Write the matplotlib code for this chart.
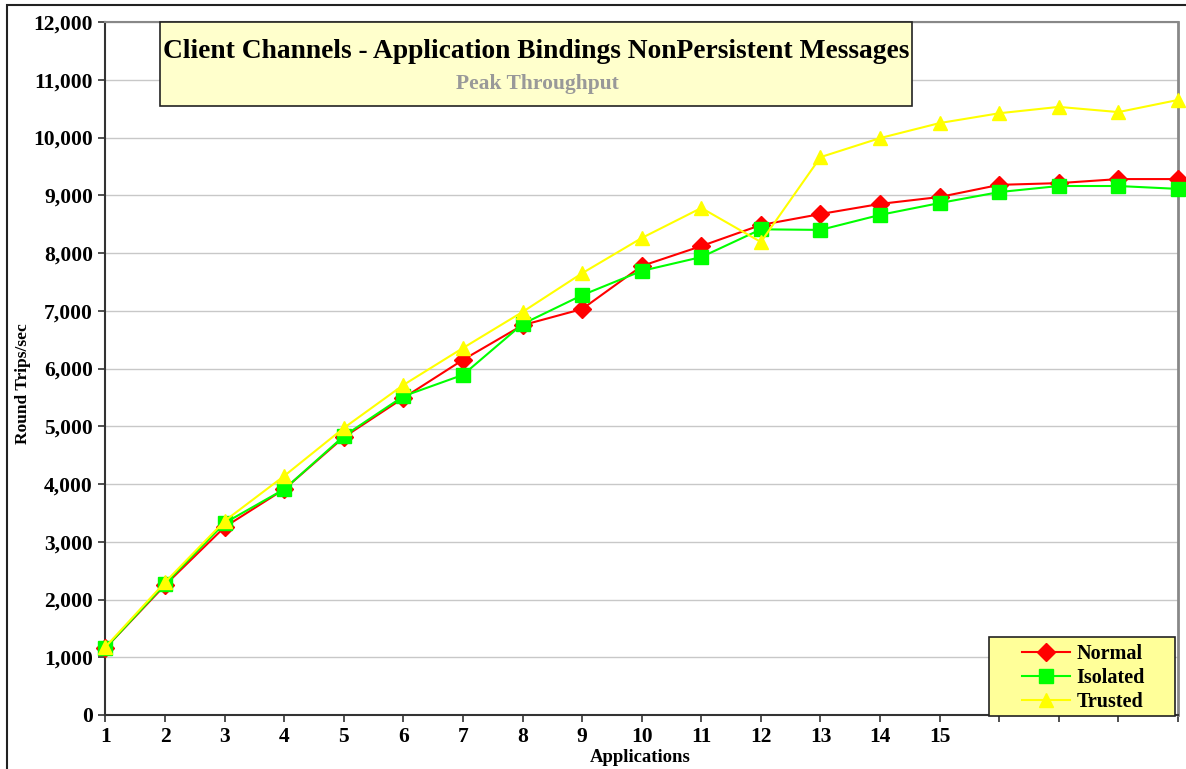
import matplotlib
matplotlib.use("Agg")
import matplotlib.pyplot as plt
from matplotlib.patches import Rectangle
from matplotlib.ticker import FuncFormatter, FixedLocator

applications = list(range(1, 20))
tick_labels = [str(i) for i in range(1, 16)] + ["", "", "", ""]
normal = [1160, 2250, 3255, 3910, 4810, 5490, 6150, 6750, 7030, 7775,
          8120, 8485, 8675, 8850, 8970, 9180, 9210, 9280, 9280]
isolated = [1160, 2270, 3325, 3910, 4830, 5520, 5890, 6770, 7270, 7690,
            7930, 8410, 8400, 8660, 8865, 9055, 9160, 9160, 9110]
trusted = [1180, 2300, 3360, 4140, 4970, 5715, 6355, 6980, 7650, 8260,
           8780, 8190, 9660, 9990, 10250, 10420, 10530, 10440, 10650]

plt.rcParams['font.family'] = ['Liberation Serif', 'DejaVu Serif']
plt.rcParams['font.weight'] = 'bold'

W, H = 1186, 769
AW = 1178 - 105.5
AH = 715 - 22
fig = plt.figure(figsize=(W / 100, H / 100), dpi=100)
ax = fig.add_axes([105.5 / W, 1 - 715 / H, AW / W, AH / H])

# outer figure border
fig.patches.append(Rectangle((7 / W, -0.05), 1.2, 1 - 5 / H + 0.05,
                             transform=fig.transFigure, fill=False,
                             edgecolor='#222222', linewidth=1.5, zorder=0))

ax.plot(applications, normal, color='#FF0000', marker='D', markersize=9,
        linewidth=1.5, label='Normal', clip_on=False, zorder=3)
ax.plot(applications, isolated, color='#00FF00', marker='s', markersize=10,
        linewidth=1.5, label='Isolated', clip_on=False, zorder=4)
ax.plot(applications, trusted, color='#FFFF00', marker='^', markersize=10.5,
        linewidth=1.5, label='Trusted', clip_on=False, zorder=5)

ax.set_xlim(1, 19)
ax.set_ylim(0, 12000)
ax.xaxis.set_major_locator(FixedLocator(applications))
ax.set_xticklabels(tick_labels)
ax.set_yticks(range(0, 12001, 1000))
ax.yaxis.set_major_formatter(FuncFormatter(lambda v, p: f"{int(v):,}"))
ax.grid(axis='y', color='#C8C8C8', linewidth=1)
ax.set_axisbelow(True)

for s in ['left', 'bottom']:
    ax.spines[s].set_color('#333333')
    ax.spines[s].set_linewidth(1.5)
ax.spines['right'].set_color('#888888')
ax.spines['right'].set_linewidth(2)
ax.spines['top'].set_color('#888888')
ax.spines['top'].set_linewidth(1.5)

ax.tick_params(axis='both', direction='out', length=5, width=1.2, color='#333333',
               labelsize=15.5)
ax.tick_params(axis='x', pad=4)
ax.tick_params(axis='y', pad=4)

ax.set_ylabel('Round Trips/sec', fontsize=12.5, fontweight='bold')
ax.yaxis.set_label_coords((31 - 105.5) / AW, (715 - 384) / AH)
ax.set_xlabel('Applications', fontsize=13.5, fontweight='bold')
ax.xaxis.set_label_coords((640 - 105.5) / AW, (715 - 749) / AH)

# title box
fig.patches.append(Rectangle((160 / W, 1 - 106 / H), (912 - 160) / W, (106 - 22) / H,
                             transform=fig.transFigure, facecolor='#FFFFCC',
                             edgecolor='#222222', linewidth=1.2, zorder=6))
fig.text(536 / W, 1 - 51 / H, 'Client Channels - Application Bindings NonPersistent Messages',
         ha='center', va='center', fontsize=19.8, fontweight='bold', color='black', zorder=7)
fig.text(537 / W, 1 - 84 / H, 'Peak Throughput', ha='center', va='center',
         fontsize=15.5, fontweight='bold', color='#999999', zorder=7)

# legend box
fig.patches.append(Rectangle((989 / W, 1 - 716 / H), (1175 - 989) / W, (716 - 637) / H,
                             transform=fig.transFigure, facecolor='#FFFF99',
                             edgecolor='#222222', linewidth=1.2, zorder=8))
leg = fig.legend(loc='center left', bbox_to_anchor=(1022 / W, 1 - 678 / H),
                 fontsize=14.5, frameon=False, borderpad=0.0, labelspacing=0.2,
                 handlelength=2.4, handletextpad=0.3, borderaxespad=0.0)
leg.set_zorder(9)
for t in leg.get_texts():
    t.set_fontweight('bold')

fig.savefig('out.png', dpi=100)
